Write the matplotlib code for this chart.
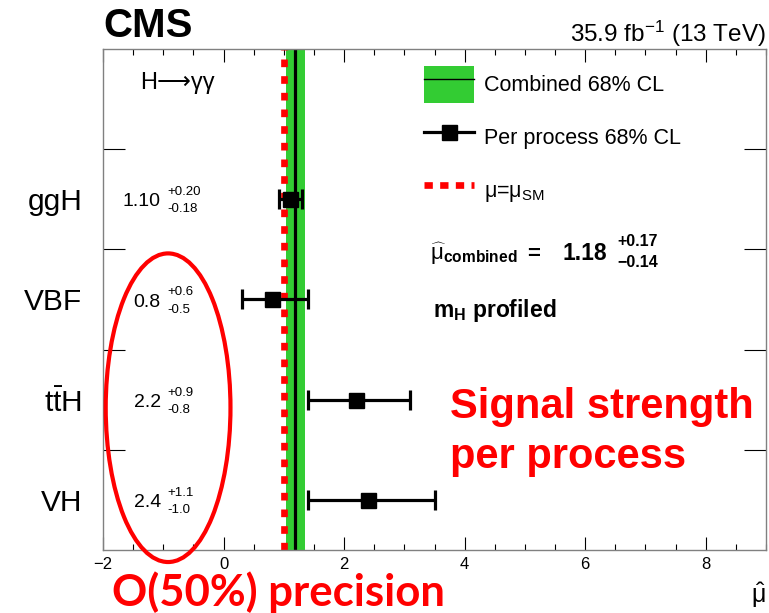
import matplotlib
matplotlib.use('Agg')
import matplotlib.pyplot as plt
from matplotlib.patches import Ellipse, Patch
from matplotlib.lines import Line2D
from matplotlib.ticker import MultipleLocator

plt.rcParams['font.family'] = ['Liberation Sans', 'DejaVu Sans']
plt.rcParams['mathtext.fontset'] = 'custom'
plt.rcParams['mathtext.rm'] = 'Liberation Sans'
plt.rcParams['mathtext.it'] = 'Liberation Sans:italic'
plt.rcParams['mathtext.bf'] = 'Liberation Sans:bold'

# per-process signal strengths (H -> gamma gamma, 35.9 fb-1)
processes = ['ggH', 'VBF', r't$\bar{\mathrm{t}}$H', 'VH']
mu_text = ['1.10', '0.8', '2.2', '2.4']
up_text = ['+0.20', '+0.6', '+0.9', '+1.1']
down_text = ['-0.18', '-0.5', '-0.8', '-1.0']
mu_values = [float(s) for s in mu_text]
err_up = [float(s) for s in up_text]
err_down = [-float(s) for s in down_text]

# combined fit
mu_comb = 1.18
comb_up = 0.17
comb_down = 0.14
mu_sm = 1.0

red = '#ff0000'
green = '#33cc33'

fig = plt.figure(figsize=(7.69, 6.13), dpi=100)
ax = fig.add_axes([103 / 769, 1 - 550 / 613, 663 / 769, 501 / 613])

ypos = list(range(len(processes)))

ax.axvspan(mu_comb - comb_down, mu_comb + comb_up, color=green, lw=0, zorder=1)
ax.axvline(mu_comb, color='k', lw=2.3, zorder=2)
ax.axvline(mu_sm, color=red, lw=4.8, ls=(0, (1.15, 1.35)), zorder=2)
ax.errorbar(mu_values, ypos, xerr=[err_down, err_up], fmt='s', color='k',
            ms=10.8, elinewidth=2.3, capsize=7.2, capthick=2.3, zorder=4)

# numbers next to each process
for y, m, u, d in zip(ypos, mu_text, up_text, down_text):
    ax.text(-1.04, y + 0.07, m, ha='right', va='baseline', fontsize=14)
    ax.text(-0.93, y - 0.04, u, ha='left', va='baseline', fontsize=9.5)
    ax.text(-0.93, y + 0.13, d, ha='left', va='baseline', fontsize=9.5)

ax.text(-1.39, -1.10, 'H\u27f6γγ', ha='left', va='baseline', fontsize=17)

# legend
handles = [
    (Patch(facecolor=green, edgecolor='none'), Line2D([], [], color='k', lw=1)),
    Line2D([], [], color='k', lw=2.3, marker='s', ms=10.8),
    Line2D([], [], color=red, lw=4.8, ls=(0, (1.25, 1.1))),
]
labels = ['Combined 68% CL', 'Per process 68% CL', r'$\mathrm{\mu}$=$\mathrm{\mu_{SM}}$']
ax.legend(handles, labels, loc='upper left', bbox_to_anchor=(0.484, 0.966),
          frameon=False, fontsize=15.5, borderpad=0, borderaxespad=0,
          handlelength=2.33, handleheight=2.27, handletextpad=0.47,
          labelspacing=0.74)

ax.text(3.42, 0.61, r'$\widehat{\mathrm{\mu}}_{\mathbf{combined}}$', ha='left',
        va='baseline', fontsize=16)
ax.text(5.04, 0.61, '=', ha='left', va='baseline', fontsize=16, fontweight='bold')
ax.text(5.62, 0.61, f'{mu_comb:.2f}', ha='left', va='baseline', fontsize=16.5,
        fontweight='bold')
ax.text(6.53, 0.47, f'+{comb_up:.2f}', ha='left', va='baseline', fontsize=11.5,
        fontweight='bold')
ax.text(6.53, 0.68, f'\u2212{comb_down:.2f}', ha='left', va='baseline',
        fontsize=11.5, fontweight='bold')
ax.text(3.47, 1.17, r'$\mathbf{m_{H}}$ profiled', ha='left', va='baseline',
        fontsize=16.5, fontweight='bold')

# highlight around the per-process numbers
ax.add_patch(Ellipse((-0.92, 2.08), 2.07, 3.08, fill=False, ec=red, lw=3,
                     clip_on=False, zorder=6))

ax.set_xlim(-2, 9)
ax.set_ylim(3.5, -1.5)
ax.xaxis.set_major_locator(MultipleLocator(2))
ax.xaxis.set_minor_locator(MultipleLocator(0.5))
ax.set_yticks([y + 0.5 for y in [-1] + ypos[:-1]], labels=[''] * len(ypos))
ax.set_yticks(ypos, labels=processes, minor=True)
ax.tick_params(axis='x', which='major', direction='in', length=9.5, width=0.8,
               top=True, labelsize=12, pad=5)
ax.tick_params(axis='x', which='minor', direction='in', length=4.5, width=0.8,
               top=True)
ax.tick_params(axis='y', which='major', direction='in', length=16, width=0.8,
               right=True)
ax.tick_params(axis='y', which='minor', length=0, labelsize=21.5, pad=15)
for s in ax.spines.values():
    s.set_color('#808080')
    s.set_linewidth(1)

ax.set_xlabel(r'$\hat{\mathrm{\mu}}$', loc='right', fontsize=18, labelpad=6)

fig.text(103 / 769, 1 - 37 / 613, 'CMS', ha='left', va='baseline', fontsize=29,
         fontweight='bold')
fig.text(766 / 769, 1 - 42 / 613, r'35.9 fb$^{-1}$ (13 TeV)', ha='right',
         va='baseline', fontsize=17.5)

fig.text(450 / 769, 1 - 418 / 613, 'Signal strength', color=red, fontsize=30,
         fontweight='bold', va='baseline')
fig.text(450 / 769, 1 - 468 / 613, 'per process', color=red, fontsize=30,
         fontweight='bold', va='baseline')
fig.text(112 / 769, 1 - 606 / 613, 'O(50%) precision', color=red, fontsize=31.5,
         fontweight='bold', family='Lato', va='baseline')

fig.savefig('out.png', dpi=100)
